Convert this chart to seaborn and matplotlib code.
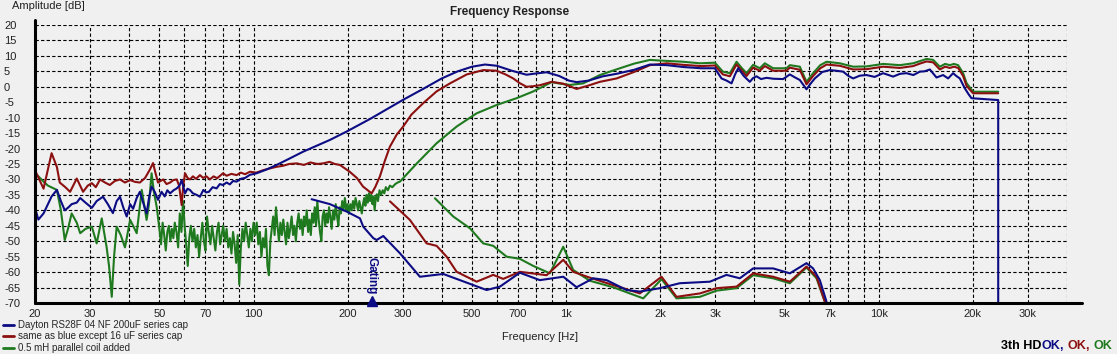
import matplotlib
matplotlib.use('Agg')
import matplotlib.pyplot as plt
import seaborn as sns
from matplotlib.lines import Line2D
from matplotlib.offsetbox import TextArea, HPacker, AnchoredOffsetbox

sns.set_theme(style='white')
plt.rcParams['font.family'] = ['Liberation Sans', 'DejaVu Sans']

BG = '#f0f0f0'
NAVY = '#0c0c84'
RED = '#8c1010'
GREEN = '#1f7a1f'

# ---------------- data (Hz, dB) ----------------
blue_f = [20, 20.5, 21.3, 22.6, 23.5, 24.2, 24.9, 25.6, 26.2, 27.2, 27.9, 29.0, 30.4, 31.5, 33.0, 34.2,
          35.5, 36.5, 37.4, 38.3, 39.3, 40.3, 41.2, 42.3, 43.3, 44.2, 45.5, 46.3, 47.2, 48.3, 49.5, 50.8,
          52.0, 53.0, 54.1, 55.5, 56.8, 58.0, 58.9, 60.4, 61.5, 62.6, 64.0, 65.8, 67.4, 69.1, 70.5, 72.0,
          74.0, 76.2, 78.0, 79.9, 82.0, 84.0, 86.0, 88.3, 91.0, 94.0, 97.4, 102.3, 110, 118.6, 130, 144.2,
          160, 175.6, 198.5, 237, 300, 350, 400, 450, 500, 550, 600, 670, 747, 800, 866, 950, 1020, 1080,
          1180, 1311, 1450, 1650, 1853, 2100, 2368, 2700, 2990, 3140, 3260, 3381, 3470, 3550, 3700, 3868,
          3960, 4064, 4200, 4374, 4600, 4944, 5194, 5400, 5590, 5872, 6050, 6242, 6600, 6974, 7300, 7690,
          8000, 8280, 8700, 9136, 9700, 10324, 11112, 11700, 12266, 12900, 13532, 14000, 14568, 15298,
          16060, 16664, 17290, 17700, 18164, 18846, 19400, 19796, 24100, 24100]
blue_db = [-39.2, -43, -41, -35.5, -33.4, -37, -40, -39, -38, -37.5, -36, -37.5, -39.2, -37, -35.6, -38,
           -40.9, -37, -35.6, -39, -42, -38, -39.5, -36, -34, -37, -41, -36, -32.3, -34, -36.6, -34,
           -35.5, -33.5, -34.5, -33.5, -32.9, -32, -30.2, -34.5, -33, -33.4, -34.5, -35, -35.6, -33.4, -34.2, -34,
           -32.5, -32.9, -31.5, -31.8, -31, -31.6, -30.5, -30.7, -29.8, -29.5, -28.5, -28, -26.8, -25.3, -23.3, -21,
           -19, -17.2, -14.5, -10.3, -4.3, -0.6, 2.7, 5.0, 6.5, 7.2, 6.8, 5.2, 3.9, 4.3, 4.7, 3.5, 2.0, 1.5,
           2.0, 3.4, 4.2, 5.5, 7.2, 7.0, 6.4, 6.0, 6.0, 2.7, 2.0, 1.1, 4.0, 6.0, 3.5, 1.6,
           2.8, 3.4, 2.5, 2.9, 2.6, 2.5, 4.0, 3.0, 2.2, -0.8, 1.0, 2.7, 4.8, 5.4, 5.2, 4.9,
           3.5, 2.7, 3.6, 3.8, 3.2, 4.4, 3.3, 4.2, 4.4, 3.8, 4.9, 5.0, 5.6, 3.0,
           3.8, 2.7, 4.4, 3.5, 2.7, -0.5, -2.5, -3.7, -4.3, -70]

red_f = [20, 21.3, 22.6, 23.5, 24.0, 25.0, 25.9, 27.2, 28.5, 29.5, 30.4, 31.3, 32.3, 33.5, 34.7, 36,
         37.4, 38.8, 40.3, 41.8, 43.3, 45.0, 46.5, 47.7, 48.6, 49.5, 50.4, 51.4, 52.7, 54.1, 55.4, 56.8,
         57.8, 58.9, 59.6, 60.4, 61.5, 62.6, 64, 65.5, 67.4, 69, 70.7, 72.5, 74.5, 76.5, 79.9, 82, 85,
         88.3, 91, 94, 97.4, 102, 107.4, 112, 118.6, 124, 130, 137.4, 145, 152, 160, 167, 175, 182, 189,
         203, 214, 224, 232, 238.8, 245, 253.7, 263, 273, 287, 301, 320, 349, 385, 425, 481, 543, 599,
         640, 677, 710, 747, 785, 824, 898, 979, 1080, 1170, 1282, 1450, 1650, 1853, 2100, 2368, 2700,
         2990, 3172, 3340, 3508, 3650, 3776, 3964, 4164, 4320, 4592, 5068, 5194, 5590, 5872, 6164, 6500,
         6806, 7506, 8280, 9136, 10324, 11674, 12880, 13532, 14216, 14924, 15680, 16300, 16876, 17400,
         17940, 18612, 19082, 20028, 24100]
red_db = [-27, -33, -21.5, -26, -31, -32.5, -34, -29.7, -34, -32, -31.2, -32.5, -30, -31, -31.8, -30.5,
          -30, -31, -30.2, -30.8, -31, -29.5, -27, -24.7, -28, -31, -30.5, -30, -31.5, -31, -30.2, -30,
          -32, -38.3, -32, -28, -29.5, -30, -29, -29.8, -28.6, -29.5, -29, -30, -29, -29.6, -28, -28.8, -28.2,
          -28.6, -27.8, -28.3, -27.5, -27.8, -27, -26.5, -25.9, -25.6, -25.0, -24.8, -25.3, -24.5, -25, -24.8, -24.3, -25, -25.3,
          -27.5, -29.5, -32.3, -33.5, -34.5, -32.5, -29, -24, -19.4, -15.5, -12.9, -9, -5.3, -1.5, 1.1, 4.0, 5.4, 5.2,
          4.0, 2.7, 1.2, 0, 0.2, 0.5, 1.6, 1.0, -0.7, 0.3, 1.6, 2.7, 4.8, 7.0, 7.6, 7.1, 6.7,
          6.9, 4.0, 3.4, 7.2, 5.2, 3.5, 6.2, 5.2, 6.7, 5.2, 5.2, 6.2, 5.5, 0.8, 3.5, 6.0,
          7.2, 6.8, 5.6, 5.7, 6.5, 6.1, 6.7, 7.5, 8.2, 7.9, 5.6, 6.5, 6.1, 6.5,
          6.1, 3.5, 0.3, -2.1, -2.1]

green_f = ([20, 20.5, 21.3, 22, 23.5, 24.2, 24.9, 25.5, 26.2, 27.2, 27.9, 29, 30.4, 31.5, 32.7, 33.9,
            34.5, 35.2, 35.8, 36.5, 37.6, 38.8, 40.3, 41.2, 42.3, 43.9, 45.5, 46.3, 47.2, 48, 49]
           + [50, 50.6, 51.2, 51.8, 52.4, 53.0, 53.6, 54.2, 54.8, 55.4, 56.0, 56.7, 57.4, 58.1, 58.8, 59.5,
              60.2, 60.9, 61.6, 62.3, 63.0, 63.8, 64.6, 65.4, 66.2, 67.0, 67.8, 68.6, 69.4, 70.2, 71.0, 71.9,
              72.8, 73.7, 74.6, 75.5, 76.4, 77.3, 78.2, 79.1, 80.0, 81.0, 82.0, 83.0, 84.0, 85.0, 86.0, 87.0,
              88.0, 89.0, 90.0, 91.1, 92.2, 93.3, 94.4, 95.5, 96.6, 97.7, 98.8, 100]
           + [101.2, 102.4, 103.6, 104.8, 106.0, 107.2, 108.4, 109.6, 110.8, 112.0, 113.2, 114.4, 115.6,
              116.8, 118.0, 119.3, 120.6, 121.9, 123.2, 124.5, 125.8, 127.1, 128.4, 129.7, 131.0, 132.4,
              133.8, 135.2, 136.6, 138.0, 139.4, 140.8, 142.2, 143.6, 145.0, 146.5, 148.0, 149.5, 151.0,
              152.5, 154.0, 155.5, 157.0, 158.5, 160.0, 161.6, 163.2, 164.8, 166.4, 168.0, 169.6, 171.2,
              172.8, 174.4, 176.0, 177.8, 179.6, 181.4, 183.2, 185.0, 186.8, 188.6, 190.4, 192.2, 194.0,
              196.0, 198.0, 200.0]
           + [202, 204, 206, 208, 210, 212, 214, 216, 218, 220, 222, 224, 226, 228, 230, 232, 234, 236,
              238, 240, 242, 244, 246, 248, 250, 253, 256, 259, 262, 265, 269, 273, 278, 284, 289, 294]
           + [333, 385, 446, 517, 599, 694, 785,
              898, 960, 1028, 1134, 1282, 1486, 1650, 1853, 1994, 2368, 2678, 2990, 3172, 3340, 3508, 3650,
              3776, 3964, 4164, 4320, 4592, 5068, 5194, 5590, 5872, 6164, 6500, 6806, 7506, 8280, 9136, 10324,
              11674, 12880, 13532, 14216, 14924, 15680, 16300, 16876, 17400, 17940, 18612, 19082, 20028, 24100])
green_db = ([-28, -29, -30.7, -32, -33.4, -40, -49.6, -46, -41, -44, -47.4, -46, -45.3, -50.7, -42.6, -52,
             -58, -68, -55, -45.3, -48, -52, -43.1, -45, -47.4, -33.4, -43.1, -38, -28, -34, -38.8]
            + [-46, -51, -44, -48, -53, -47, -45, -50, -46, -49, -44, -47, -52, -41, -47, -37,
               -45, -51, -58, -49, -45, -50, -46, -52, -48, -55, -49, -44, -50, -53, -42, -47,
               -51, -45, -49, -53, -47, -44, -51, -48, -45, -50, -46, -52, -49, -54, -47, -51,
               -57, -48, -64, -52, -46, -50, -44, -48, -52, -46, -50, -44]
            + [-48, -44, -51, -47, -55, -49, -52, -46, -58, -61, -50, -46, -42,
               -48, -39, -45, -50, -44, -48, -43, -47, -51, -44, -49, -46, -42,
               -48, -45, -50, -44, -41, -46, -43, -48, -42, -45, -40, -47, -43,
               -48, -41, -44, -39, -45, -37, -43, -47, -50, -42, -40, -45, -41,
               -44, -39, -42, -46, -40, -43, -38, -42, -45, -39, -41, -37, -40,
               -36, -40, -38]
            + [-41, -38, -40, -37, -39.5, -36, -38, -40, -37, -39, -41, -38, -36, -38.5, -35, -37.5, -34.5, -37,
               -35, -38, -35.5, -40, -36, -34.8, -37, -33.5, -35, -33.5, -34.5, -32.5, -33.5, -32, -32.5, -31.5, -31, -30.7]
            + [-24.8, -18.3, -12.9, -8.6, -5.9, -3.7, -1.5,
               1.5, 1.0, 0.6, 1.1, 3.8, 6.0, 7.5, 8.7, 8.5, 8.1, 7.6, 7.8, 4.9, 4.4, 8.1, 6.0,
               4.4, 7.1, 6.0, 7.6, 6.0, 6.0, 7.0, 6.5, 1.6, 4.4, 7.0, 8.1, 7.6, 6.5, 6.6, 7.4,
               7.0, 7.6, 8.3, 9.0, 8.7, 6.5, 7.4, 7.0, 7.4, 7.0, 4.4, 1.2, -1.6, -1.6])

# 3rd harmonic distortion curves
blue_hd_f = [153.4, 175.6, 198.5, 219, 224.4, 241.6, 247.6, 260, 294, 340.6, 404.4, 457.4, 556.6, 614,
             711, 824, 979, 1080, 1220, 1347, 1561, 1721, 1994, 2310, 2882, 3258, 3594, 3964, 4592,
             5194, 5872, 6164, 6478, 6806]
blue_hd_db = [-36.4, -38, -40.4, -42.6, -45.3, -49, -49.6, -48.3, -53.9, -61.5, -60.6, -62.6, -65.8, -64.7,
              -60.2, -62.6, -61.5, -64.9, -62, -62.6, -65.8, -66.3, -65.2, -63.6, -63.1, -60.9, -62, -58.8, -58.8,
              -60.4, -57.1, -58.8, -62.6, -69.6]
red_hd_f = [273.2, 316.4, 357.8, 385.2, 414.6, 446.4, 517.2, 584.4, 629, 711, 866, 979, 1053, 1191,
            1414, 1721, 2019, 2254, 2678, 3028, 3508, 3964, 4592, 5194, 5872, 6322, 6722]
red_hd_db = [-37.1, -43.1, -50.7, -51.5, -55, -59.9, -63.1, -60.9, -62.2, -59.9, -61, -56, -59.9, -61.8,
             -64.2, -66.9, -61.5, -68, -66.9, -65.2, -64.7, -60.4, -61.5, -63.1, -58.2, -61.5, -69.6]
green_hd_f = [380.4, 435.4, 492.2, 542.8, 584.4, 645, 711, 785, 887, 979, 1053, 1191, 1414, 1764,
              2019, 2254, 2678, 3028, 3508, 3964, 4592, 5194, 5872, 6322, 6722]
green_hd_db = [-36.1, -42, -45.8, -50.7, -51.5, -55, -55.7, -58, -60.4, -51.8, -59.3, -62.8, -64.9, -68.5,
               -62.3, -68.5, -68, -66, -65.2, -61, -62, -63.6, -58.5, -62, -69.6]

legend_labels = ['Dayton RS28F 04 NF 200uF series cap',
                 'same as blue except 16 uF series cap',
                 '0.5 mH parallel coil added']
gating_hz = 239

y_ticks = list(range(-70, 21, 5))
x_grid = ([20, 30, 40, 50, 60, 70, 80, 90] + [m * 100 for m in range(1, 10)]
          + [m * 1000 for m in range(1, 10)] + [10000, 20000, 30000, 40000])
x_labels = {20: '20', 30: '30', 50: '50', 70: '70', 100: '100', 200: '200', 300: '300', 500: '500',
            700: '700', 1000: '1k', 2000: '2k', 3000: '3k', 5000: '5k', 7000: '7k', 10000: '10k',
            20000: '20k', 30000: '30k'}

# ---------------- figure ----------------
W, H = 1117, 354
fig = plt.figure(figsize=(W / 100, H / 100), dpi=100, facecolor=BG)
ax = fig.add_axes([35 / W, 1 - 303 / H, (1067 - 35) / W, (303 - 25) / H])
ax.set_facecolor(BG)
ax.set_xscale('log')

LW = 1.5
for f, d, c in [(green_f, green_db, GREEN), (red_f, red_db, RED), (blue_f, blue_db, NAVY),
                (green_hd_f, green_hd_db, GREEN), (red_hd_f, red_hd_db, RED), (blue_hd_f, blue_hd_db, NAVY)]:
    sns.lineplot(x=f, y=d, ax=ax, color=c, lw=LW, estimator=None, sort=False, legend=False)

ax.set_xlim(20, 40000)
ax.set_ylim(-70, 20)
ax.set_xticks(x_grid)
ax.set_xticklabels([x_labels.get(v, '') for v in x_grid])
ax.xaxis.set_minor_locator(matplotlib.ticker.NullLocator())
ax.set_yticks(y_ticks)
ax.set_yticklabels([str(v) for v in y_ticks])
ax.set_xlabel('')
ax.set_ylabel('')
ax.grid(True, color='black', linestyle=(0, (3, 2)), lw=0.8)
ax.set_axisbelow(True)
for s in ['top', 'right', 'left', 'bottom']:
    ax.spines[s].set_visible(False)
ax.tick_params(axis='both', length=0, labelsize=8, colors='#222222')
ax.tick_params(axis='y', pad=22.3)
ax.tick_params(axis='x', pad=4)
for lbl in ax.get_yticklabels():
    lbl.set_horizontalalignment('left')

# axis lines (thick, extending slightly past plot area)
ax.add_line(Line2D([0, 0], [0, 1.018], transform=ax.transAxes, color='black', lw=2.2, clip_on=False))
ax.add_line(Line2D([0, 1.0145], [0, 0], transform=ax.transAxes, color='black', lw=2.2, clip_on=False))

# gating marker
ax.plot([gating_hz], [-69.2], marker='^', color=NAVY, ms=6.5, clip_on=False, zorder=5)
ax.text(gating_hz, -55.0, 'Gating', rotation=-90, ha='center', va='top', color=NAVY,
        fontsize=8.5, weight='bold')

# texts
fig.text(12 / W, 1 - 6 / H, 'Amplitude [dB]', ha='left', va='center', fontsize=8, color='#222222')
fig.text(510 / W, 1 - 12 / H, 'Frequency Response', ha='center', va='center', fontsize=8.5,
         weight='bold', color='#222222')
fig.text(540 / W, 1 - 337 / H, 'Frequency [Hz]', ha='center', va='center', fontsize=8, color='#222222')

handles = [Line2D([], [], color=c, lw=2) for c in (NAVY, RED, GREEN)]
fig.legend(handles, legend_labels, loc='upper left', bbox_to_anchor=(3 / W, 1 - 320 / H),
           frameon=False, fontsize=7, handlelength=1.1, handletextpad=0.45, labelspacing=0.15,
           borderpad=0, borderaxespad=0)

parts = [('3th HD', 'black'), ('OK', NAVY), (', ', NAVY), ('OK', RED), (', ', RED), ('OK', GREEN)]
box = HPacker(children=[TextArea(t, textprops=dict(color=c, weight='bold', fontsize=9)) for t, c in parts],
              sep=0, align='baseline')
anch = AnchoredOffsetbox(loc='lower right', child=box, frameon=False, pad=0, borderpad=0,
                         bbox_to_anchor=(1112 / W, 1 - 352 / H), bbox_transform=fig.transFigure)
fig.add_artist(anch)

fig.savefig('out.png', dpi=100, facecolor=BG)
